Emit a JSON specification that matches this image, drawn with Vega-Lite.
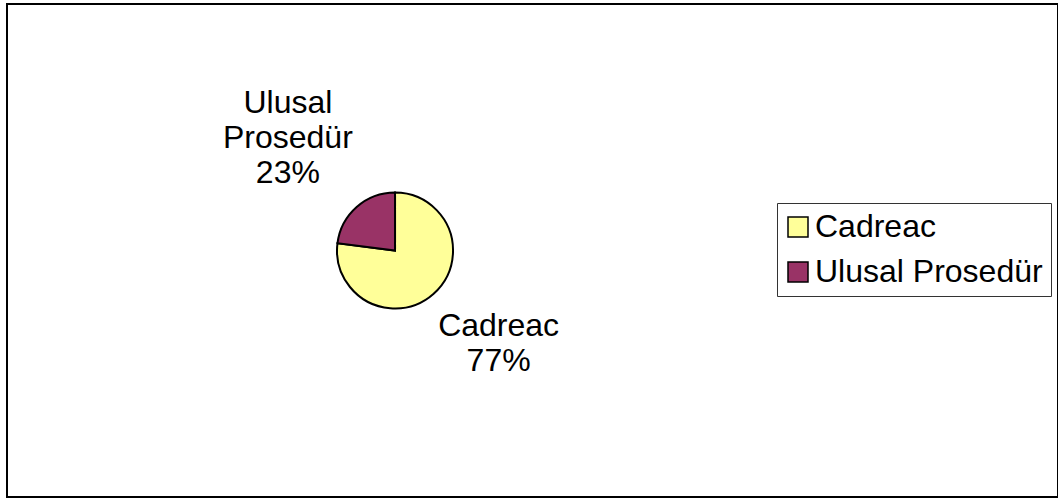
{
  "$schema": "https://vega.github.io/schema/vega-lite/v6.json",
  "width": 1051,
  "height": 493,
  "autosize": {"type": "none"},
  "padding": {"left": 7, "top": 4, "right": 0, "bottom": 1},
  "background": "white",
  "config": {
    "view": {"stroke": "black", "strokeWidth": 2},
    "font": "Liberation Sans"
  },
  "data": {
    "values": [
      {"category": "Cadreac", "value": 77, "label": "Cadreac\n77%"},
      {"category": "Ulusal Prosedür", "value": 23, "label": "Ulusal\nProsedür\n23%"}
    ]
  },
  "encoding": {
    "theta": {"field": "value", "type": "quantitative", "stack": true},
    "x": {"datum": 0.3692, "type": "quantitative", "scale": {"domain": [0, 1]}, "axis": null}
  },
  "layer": [
    {
      "mark": {"type": "arc", "outerRadius": 58, "stroke": "black", "strokeWidth": 2},
      "encoding": {
        "color": {
          "field": "category",
          "type": "nominal",
          "scale": {"domain": ["Cadreac", "Ulusal Prosedür"], "range": ["#FFFF99", "#993366"]},
          "legend": {
            "orient": "none",
            "legendX": 770,
            "legendY": 199,
            "title": null,
            "strokeColor": "#333333",
            "fillColor": "white",
            "padding": 8,
            "symbolType": "square",
            "symbolSize": 400,
            "symbolOffset": -3,
            "symbolStrokeColor": "black",
            "symbolStrokeWidth": 1.5,
            "labelFontSize": 32,
            "labelFont": "Liberation Sans",
            "labelColor": "black",
            "labelLimit": 600,
            "labelOffset": 1,
            "rowPadding": 13
          }
        }
      }
    },
    {
      "mark": {
        "type": "text",
        "radius": {"expr": "datum.category == 'Cadreac' ? 137 : 156"},
        "fontSize": 32,
        "font": "Liberation Sans",
        "lineBreak": "\n",
        "lineHeight": 35,
        "align": "center",
        "baseline": "middle",
        "color": "black",
        "dx": {"expr": "datum.category == 'Cadreac' ? 13 : -4"},
        "dy": {"expr": "datum.category == 'Cadreac' ? -27 : -30"}
      },
      "encoding": {
        "detail": {"field": "category", "type": "nominal"},
        "text": {"field": "label", "type": "nominal"}
      }
    }
  ]
}
